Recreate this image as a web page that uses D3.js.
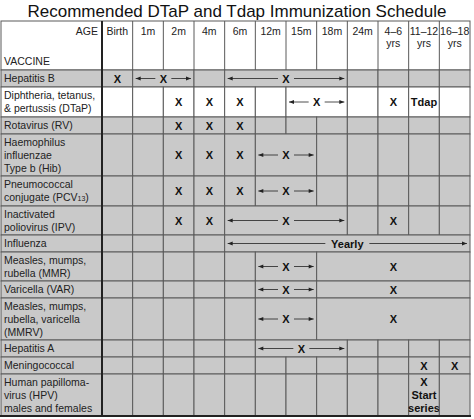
<!DOCTYPE html>
<html><head><meta charset="utf-8">
<script src="https://cdn.jsdelivr.net/npm/d3@7"></script>
<style>body{margin:0;background:#fff}svg{display:block}</style>
</head><body>
<script>
const title = "Recommended DTaP and Tdap Immunization Schedule";
const ages = ["Birth","1m","2m","4m","6m","12m","15m","18m","24m","4–6|yrs","11–12|yrs","16–18|yrs"];
const vaccines = ["Hepatitis B","Diphtheria, tetanus,|& pertussis (DTaP)","Rotavirus (RV)",
 "Haemophilus|influenzae|Type b (Hib)","Pneumococcal|conjugate (PCV13)","Inactivated|poliovirus (IPV)",
 "Influenza","Measles, mumps,|rubella (MMR)","Varicella (VAR)","Measles, mumps,|rubella, varicella|(MMRV)",
 "Hepatitis A","Meningococcal","Human papilloma-|virus (HPV)|males and females"];
const whiteRows = [1];
// [row, fromCol, toCol, text, arrow, textCol]
const doses = [
 [0,0,0,"X",false],[0,1,2,"X",true],[0,4,7,"X",true],
 [1,2,2,"X",false],[1,3,3,"X",false],[1,4,4,"X",false],[1,6,7,"X",true],[1,9,9,"X",false],[1,10,10,"Tdap",false],
 [2,2,2,"X",false],[2,3,3,"X",false],[2,4,4,"X",false],
 [3,2,2,"X",false],[3,3,3,"X",false],[3,4,4,"X",false],[3,5,6,"X",true],
 [4,2,2,"X",false],[4,3,3,"X",false],[4,4,4,"X",false],[4,5,6,"X",true],
 [5,2,2,"X",false],[5,3,3,"X",false],[5,4,7,"X",true],[5,9,9,"X",false],
 [6,4,11,"Yearly",true],
 [7,5,6,"X",true],[7,7,11,"X",false,9],
 [8,5,6,"X",true],[8,7,11,"X",false,9],
 [9,5,6,"X",true],[9,7,11,"X",false,9],
 [10,5,7,"X",true],
 [11,10,10,"X",false],[11,11,11,"X",false],
 [12,10,10,"X|Start|series",false]
];
const rowEdges = [70,87,117,134,176,206,235,252,281,298,340,357,374,416];

const W=474,H=419;
const svg=d3.select("body").append("svg").attr("width",W).attr("height",H)
  .style("font-family","'Liberation Sans',Arial,sans-serif");
const x=d3.scaleBand().domain(d3.range(ages.length)).range([102,470]).padding(0);
const bw=x.bandwidth();
const grey="#c9c9c9", line="#5a5a5a";

svg.append("text").attr("x",237).attr("y",17).attr("text-anchor","middle")
  .attr("font-size",17).attr("fill","#111").text(title);

// header
const hTop=21,hBot=70;
svg.append("rect").attr("x",1).attr("y",hTop).attr("width",469).attr("height",hBot-hTop).attr("fill","#fff").attr("stroke",line);
svg.append("text").attr("x",98).attr("y",35).attr("text-anchor","end").attr("font-size",10.5).attr("fill","#222").text("AGE");
svg.append("text").attr("x",4).attr("y",65).attr("font-size",10.5).attr("fill","#222").text("VACCINE");
ages.forEach((a,i)=>{
  const t=svg.append("text").attr("x",x(i)+bw/2).attr("y",35).attr("text-anchor","middle").attr("font-size",10.5).attr("fill","#222");
  a.split("|").forEach((s,k)=>t.append("tspan").attr("x",x(i)+bw/2).attr("dy",k?12:0).text(s));
  svg.append("line").attr("x1",x(i)).attr("x2",x(i)).attr("y1",hTop).attr("y2",hBot).attr("stroke",line);
});

vaccines.forEach((v,r)=>{
  const y0=rowEdges[r],y1=rowEdges[r+1],fill=whiteRows.includes(r)?"#fff":grey;
  svg.append("rect").attr("x",1).attr("y",y0).attr("width",101).attr("height",y1-y0).attr("fill",fill).attr("stroke",line);
  const lines=v.split("|");
  const t=svg.append("text").attr("font-size",10.5).attr("fill","#222");
  const startY=(y0+y1)/2-(lines.length-1)*6.5+3.8;
  lines.forEach((s,k)=>{
    const sp=t.append("tspan").attr("x",4).attr("y",startY+k*13);
    if(s.includes("PCV13")){sp.text("conjugate (PCV");sp.append("tspan").attr("font-size",7).text("13");sp.append("tspan").text(")");}
    else sp.text(s);
  });
  // cells: merged spans + singles
  const ds=doses.filter(d=>d[0]===r);
  const spans=[];
  for(let c=0;c<ages.length;c++){
    const d=ds.find(d=>d[1]===c);
    if(d){spans.push(d);c=d[2];} else spans.push([r,c,c,"",false]);
  }
  spans.forEach(d=>{
    const sx=x(d[1]),ex=x(d[2])+bw;
    svg.append("rect").attr("x",sx).attr("y",y0).attr("width",ex-sx).attr("height",y1-y0).attr("fill",fill).attr("stroke",line);
    if(!d[3])return;
    const cx=d[5]!==undefined?x(d[5])+bw/2:(sx+ex)/2, cy=(y0+y1)/2;
    const parts=d[3].split("|");
    const bold=svg.append("text").attr("text-anchor","middle").attr("font-weight","bold").attr("font-size",11).attr("fill","#111");
    parts.forEach((s,k)=>bold.append("tspan").attr("x",cx).attr("y",cy+4-(parts.length-1)*6.5+k*13).text(s));
    if(d[4]){
      const half=(d[3]==="Yearly"?20:6);
      const a0=sx+3,a1=ex-3;
      [[cx-half-2,a0],[cx+half+2,a1]].forEach(([from,to])=>{
        svg.append("line").attr("x1",from).attr("x2",to).attr("y1",cy).attr("y2",cy).attr("stroke","#222").attr("stroke-width",0.8);
        const s=Math.sign(to-from);
        svg.append("path").attr("d",`M${to},${cy}L${to-5*s},${cy-2}L${to-5*s},${cy+2}Z`).attr("fill","#222");
      });
    }
  });
});
// thick lines
svg.append("line").attr("x1",102).attr("x2",102).attr("y1",hTop).attr("y2",416).attr("stroke","#222").attr("stroke-width",2);
svg.append("line").attr("x1",0).attr("x2",471).attr("y1",416).attr("y2",416).attr("stroke","#222").attr("stroke-width",2);
</script>
</body></html>
